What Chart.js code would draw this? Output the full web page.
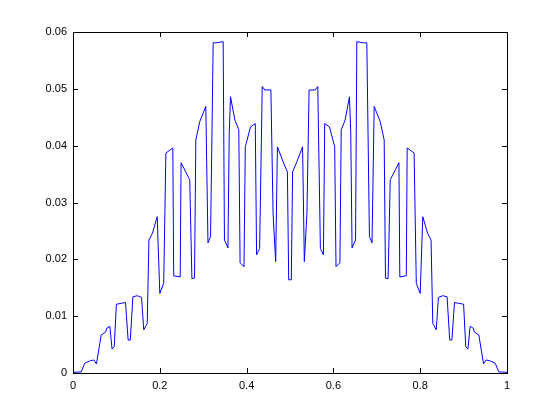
<!DOCTYPE html>
<html>
<head>
<meta charset="utf-8">
<script src="https://cdn.jsdelivr.net/npm/chart.js@4"></script>
<style>
  html, body { margin: 0; padding: 0; background: #fff; }
  #wrap { width: 560px; height: 420px; }
</style>
</head>
<body>
<div id="wrap"><canvas id="myChart" width="560" height="420"></canvas></div>
<script>
const xValues = [
  0.000, 0.019, 0.027, 0.038, 0.048, 0.054, 0.065, 0.075, 0.078, 0.085,
  0.090, 0.095, 0.100, 0.114, 0.121, 0.127, 0.132, 0.138, 0.148, 0.158,
  0.163, 0.171, 0.175, 0.183, 0.194, 0.200, 0.209, 0.214, 0.230, 0.232,
  0.247, 0.249, 0.269, 0.274, 0.280, 0.283, 0.292, 0.306, 0.311, 0.317,
  0.323, 0.331, 0.346, 0.349, 0.357, 0.360, 0.363, 0.373, 0.382, 0.385,
  0.394, 0.397, 0.409, 0.420, 0.423, 0.430, 0.436, 0.442, 0.456, 0.461,
  0.467, 0.471, 0.484, 0.494, 0.497, 0.500,
  0.503, 0.506, 0.516, 0.529, 0.533, 0.539, 0.544, 0.558, 0.564, 0.570,
  0.577, 0.580, 0.591, 0.603, 0.606, 0.615, 0.618, 0.627, 0.637, 0.640,
  0.643, 0.651, 0.654, 0.669, 0.677, 0.683, 0.689, 0.694, 0.708, 0.717,
  0.720, 0.726, 0.731, 0.751, 0.753, 0.768, 0.770, 0.786, 0.791, 0.800,
  0.806, 0.817, 0.825, 0.829, 0.837, 0.842, 0.852, 0.862, 0.868, 0.873,
  0.879, 0.886, 0.900, 0.905, 0.910, 0.915, 0.922, 0.925, 0.935, 0.946,
  0.952, 0.962, 0.973, 0.981, 1.000
];
const yValues = [
  0.0001, 0.0002, 0.0017, 0.0021, 0.0023, 0.0016, 0.0067, 0.0072, 0.0079, 0.0082,
  0.0042, 0.0046, 0.0121, 0.0123, 0.0124, 0.0058, 0.0058, 0.0134, 0.0136, 0.0133,
  0.0076, 0.0087, 0.0234, 0.0246, 0.0275, 0.0140, 0.0158, 0.0387, 0.0396, 0.0171,
  0.0169, 0.0370, 0.0340, 0.0166, 0.0167, 0.0410, 0.0442, 0.0469, 0.0229, 0.0240,
  0.0581, 0.0581, 0.0583, 0.0234, 0.0220, 0.0422, 0.0486, 0.0445, 0.0428, 0.0194,
  0.0187, 0.0398, 0.0433, 0.0439, 0.0208, 0.0219, 0.0504, 0.0498, 0.0498, 0.0281,
  0.0196, 0.0398, 0.0372, 0.0354, 0.0164, 0.0164,
  0.0164, 0.0354, 0.0372, 0.0398, 0.0196, 0.0281, 0.0498, 0.0498, 0.0504, 0.0219,
  0.0208, 0.0439, 0.0433, 0.0398, 0.0187, 0.0194, 0.0428, 0.0445, 0.0486, 0.0422,
  0.0220, 0.0234, 0.0583, 0.0581, 0.0581, 0.0240, 0.0229, 0.0469, 0.0442, 0.0410,
  0.0167, 0.0166, 0.0340, 0.0370, 0.0169, 0.0171, 0.0396, 0.0387, 0.0158, 0.0140,
  0.0275, 0.0246, 0.0234, 0.0087, 0.0076, 0.0133, 0.0136, 0.0134, 0.0058, 0.0058,
  0.0124, 0.0123, 0.0121, 0.0046, 0.0042, 0.0082, 0.0079, 0.0072, 0.0067, 0.0016,
  0.0023, 0.0021, 0.0017, 0.0002, 0.0001
];

const xTickValues = [0, 0.2, 0.4, 0.6, 0.8, 1];
const xTickLabels = ["0", "0.2", "0.4", "0.6", "0.8", "1"];
const yTickValues = [0, 0.01, 0.02, 0.03, 0.04, 0.05, 0.06];
const yTickLabels = ["0", "0.01", "0.02", "0.03", "0.04", "0.05", "0.06"];

const points = xValues.map((x, i) => ({ x: x, y: yValues[i] }));

// matlab style box with ticks pointing inward on all four sides
const boxTicks = {
  id: "boxTicks",
  afterDraw(chart) {
    const { ctx, chartArea: a, scales } = chart;
    const len = 5;
    ctx.save();
    ctx.strokeStyle = "#000";
    ctx.lineWidth = 1;
    ctx.beginPath();
    xTickValues.forEach((v) => {
      const px = Math.round(scales.x.getPixelForValue(v)) + 0.5;
      ctx.moveTo(px, a.bottom); ctx.lineTo(px, a.bottom - len);
      ctx.moveTo(px, a.top); ctx.lineTo(px, a.top + len);
    });
    yTickValues.forEach((v) => {
      const py = Math.round(scales.y.getPixelForValue(v)) + 0.5;
      ctx.moveTo(a.left, py); ctx.lineTo(a.left + len, py);
      ctx.moveTo(a.right, py); ctx.lineTo(a.right - len, py);
    });
    ctx.stroke();
    ctx.strokeRect(Math.round(a.left) + 0.5, Math.round(a.top) + 0.5,
      Math.round(a.right - a.left), Math.round(a.bottom - a.top));
    ctx.restore();
  },
};

const ctx = document.getElementById("myChart").getContext("2d");
new Chart(ctx, {
  type: "line",
  data: {
    datasets: [
      {
        data: points,
        borderColor: "#0000ff",
        borderWidth: 1,
        pointRadius: 0,
        fill: false,
        tension: 0,
      },
    ],
  },
  options: {
    responsive: false,
    animation: false,
    layout: { padding: { left: 0, top: 32, right: 53, bottom: 0 } },
    plugins: { legend: { display: false }, tooltip: { enabled: false } },
    scales: {
      x: {
        type: "linear",
        min: 0,
        max: 1,
        afterBuildTicks: (scale) => {
          scale.ticks = xTickValues.map((v) => ({ value: v }));
        },
        afterFit: (scale) => { scale.height = 47; },
        grid: { display: false, drawTicks: false },
        border: { display: false },
        ticks: {
          padding: 6,
          maxRotation: 0,
          color: "#000",
          font: { family: "Arial, Liberation Sans, sans-serif", size: 11 },
          callback: (v) => xTickLabels[xTickValues.indexOf(v)],
        },
      },
      y: {
        type: "linear",
        min: 0,
        max: 0.06,
        afterBuildTicks: (scale) => {
          scale.ticks = yTickValues.map((v) => ({ value: v }));
        },
        afterFit: (scale) => { scale.width = 73; },
        grid: { display: false, drawTicks: false },
        border: { display: false },
        ticks: {
          padding: 6,
          color: "#000",
          font: { family: "Arial, Liberation Sans, sans-serif", size: 11 },
          callback: (v) => yTickLabels[yTickValues.indexOf(v)],
        },
      },
    },
  },
  plugins: [boxTicks],
});
</script>
</body>
</html>
